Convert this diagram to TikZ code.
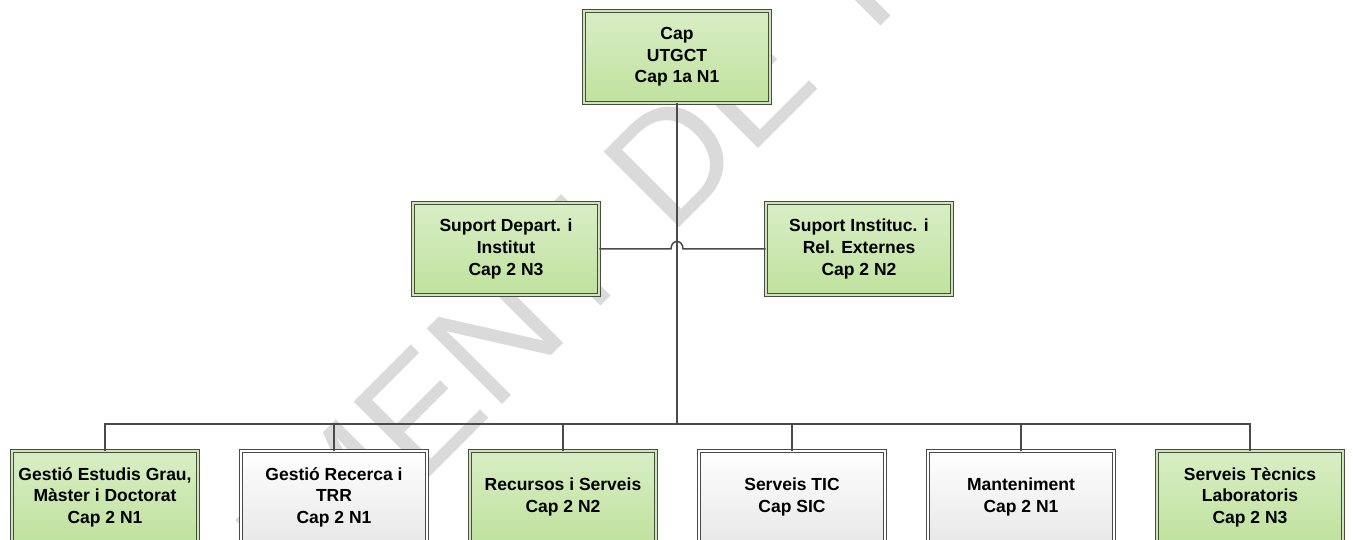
\documentclass[tikz,border=0pt]{standalone}
\usepackage{fontspec}
\setmainfont{Liberation Sans}
\usetikzlibrary{calc}
\definecolor{boxline}{HTML}{4A4A4A}
\definecolor{greentop}{HTML}{D8EEC5}
\definecolor{greenbot}{HTML}{C0E29E}
\definecolor{greybot}{HTML}{E8E8E8}
\definecolor{wmark}{HTML}{DADADA}
\tikzset{%
  unitbox/.style={rectangle, draw=boxline, line width=0.9pt, double distance=2.4pt,
    align=center, inner sep=0pt, minimum width=186pt, minimum height=92pt,
    font=\fontsize{17.5}{21.6}\selectfont\bfseries},
  greenbox/.style={unitbox, double=greentop!50!greenbot, top color=greentop, bottom color=greenbot},
  whitebox/.style={unitbox, double=white, top color=white, bottom color=greybot},
  myline/.style={draw=boxline, line width=1.5pt},
  wm/.style={rotate=45, text=wmark, inner sep=0pt, font=\fontsize{155}{155}\selectfont}
}

\begin{document}
\begin{tikzpicture}[x=1pt, y=-1pt]
\useasboundingbox (0,0) rectangle (1353,540);

% watermark
\node [wm, anchor=base west] (wmR) at (670,237) {DE TREBALL};
\node [wm, anchor=base east] (wmL) at (640,267) {DOCUMENT};

% boxes
\node [greenbox] (cap) at (677,57) {Cap\\UTGCT\\Cap 1a N1};
\node [greenbox] (supD) at (506,249) {Suport Depart. i\\Institut\\Cap 2 N3};
\node [greenbox] (supI) at (859,249) {Suport Instituc. i\\Rel. Externes\\Cap 2 N2};

\foreach \n / \x / \sty / \txt in {
  1/105/greenbox/{Gestió Estudis Grau,\\Màster i Doctorat\\Cap 2 N1},
  2/334/whitebox/{Gestió Recerca i\\TRR\\Cap 2 N1},
  3/563/greenbox/{Recursos i Serveis\\Cap 2 N2},
  4/792/whitebox/{Serveis TIC\\Cap SIC},
  5/1021/whitebox/{Manteniment\\Cap 2 N1},
  6/1250/greenbox/{Serveis Tècnics\\Laboratoris\\Cap 2 N3}}{
  \node [\sty] (B\n) at (\x,497) {\txt};
}

% lines
\coordinate (bus) at (cap.south |- 0,424);
\coordinate (hopL) at ($(cap.south |- supD.east)+(-6,0)$);
\coordinate (hopR) at ($(cap.south |- supD.east)+(6,0)$);

\draw [myline] (cap.south) -- (bus);
\draw [myline] (supD.east) -- (hopL) .. controls +(0,-10) and +(0,-10) .. (hopR) -- (supI.west);
\draw [myline, line width=1.9pt] (B1.north) |- (bus) -| (B6.north);
\foreach \n in {2,3,4,5}{
  \draw [myline] (B\n.north) -- (B\n.north |- bus);
}

\end{tikzpicture}
\end{document}
